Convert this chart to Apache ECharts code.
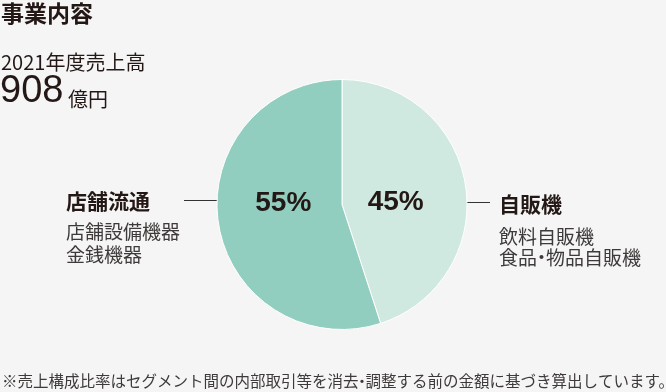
<!DOCTYPE html>
<html><head><meta charset="utf-8">
<script src="https://cdn.jsdelivr.net/npm/echarts@6/dist/echarts.min.js"></script>
<style>html,body{margin:0;padding:0;background:#f5f5f5}#c{width:666px;height:392px}</style>
</head><body><div id="c"></div>
<script>
const categories = ['自販機', '店舗流通'];
const values = [45, 55];
const subItems = [['飲料自販機', '食品・物品自販機'], ['店舗設備機器', '金銭機器']];
const colors = ['#cfe9e0', '#92cebf'];
const title = '事業内容';
const salesLabel = '2021年度売上高';
const salesValue = '908';
const salesUnit = '億円';
const footnote = '※売上構成比率はセグメント間の内部取引等を消去・調整する前の金額に基づき算出しています。';

const jp = '"Noto Sans CJK JP", sans-serif';
const num = 'Helvetica, "Liberation Sans", Arial, sans-serif';
const dark = '#231815';
const sub = '#3e3a39';

function richDots(str, size, color) {
  const parts = str.split('・');
  let out = '';
  parts.forEach((p, i) => {
    if (p) out += '{t|' + p + '}';
    if (i < parts.length - 1) out += '{d|・}';
  });
  return {
    text: out,
    rich: {
      t: { font: size + 'px ' + jp, fill: color, color: color },
      d: { font: size + 'px ' + jp, fill: color, color: color, width: Math.round(size * 0.45), align: 'center' }
    }
  };
}

function txt(x, y, text, font, color) {
  return { type: 'text', silent: true, style: { x: x, y: y, text: text, font: font, fill: color, verticalAlign: 'middle', align: 'left' } };
}

function richTxt(x, y, str, size, color) {
  const r = richDots(str, size, color);
  return { type: 'text', silent: true, style: { x: x, y: y, text: r.text, rich: r.rich, font: size + 'px ' + jp, fill: color, verticalAlign: 'middle', align: 'left' } };
}

const chart = echarts.init(document.getElementById('c'));
const labelOffsets = [[-11, 8.5], [6, -11.5]];
chart.setOption({
  backgroundColor: '#f5f5f5',
  animation: false,
  series: [{
    type: 'pie',
    center: [342, 204.5],
    radius: [0, 125],
    startAngle: 90,
    clockwise: true,
    silent: true,
    itemStyle: { borderColor: '#ffffff', borderWidth: 1 },
    label: {
      show: true, position: 'inside',
      formatter: p => p.value + '%',
      fontFamily: num, fontWeight: 'bold', fontSize: 28, color: dark
    },
    labelLine: { show: false },
    data: categories.map((c, i) => ({
      name: c, value: values[i],
      itemStyle: { color: colors[i] },
      label: { offset: labelOffsets[i] }
    }))
  }],
  graphic: [
    txt(1, 13, title, 'bold 23px ' + jp, dark),
    txt(1, 62, salesLabel, '20px ' + jp, dark),
    txt(0, 92, salesValue, '38px ' + num, dark),
    txt(68, 99, salesUnit, '20px ' + jp, dark),
    { type: 'line', silent: true, shape: { x1: 184, y1: 200.5, x2: 231, y2: 200.5 }, style: { stroke: '#333', lineWidth: 1 } },
    txt(66, 201, categories[1], 'bold 21px ' + jp, dark),
    txt(66, 232, subItems[1][0], '19px ' + jp, sub),
    txt(66, 255, subItems[1][1], '19px ' + jp, sub),
    { type: 'line', silent: true, shape: { x1: 445, y1: 202.5, x2: 490, y2: 202.5 }, style: { stroke: '#333', lineWidth: 1 } },
    txt(499, 204, categories[0], 'bold 21px ' + jp, dark),
    txt(499, 237, subItems[0][0], '19px ' + jp, sub),
    richTxt(499, 258, subItems[0][1], 19, sub),
    richTxt(2, 381, footnote, 15.5, sub)
  ]
});
</script></body></html>
